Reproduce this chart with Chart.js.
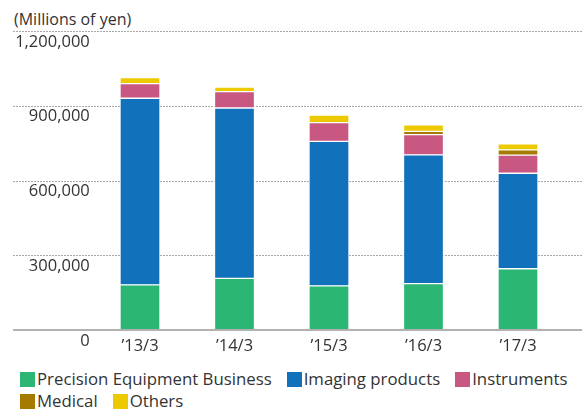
<!DOCTYPE html>
<html>
<head>
<meta charset="utf-8">
<script src="https://cdn.jsdelivr.net/npm/chart.js@4"></script>
<style>
  body { margin: 0; background: #fff; font-family: "Open Sans", sans-serif; color: #333; }
  #wrap { position: relative; width: 582px; height: 411px; }
  #chartBox { position: absolute; left: 0; top: 0; width: 582px; height: 362px; }
  #unit { position: absolute; left: 14px; top: 9px; font-size: 16px; line-height: 20px; }
  #legend { position: absolute; left: 20px; top: 368px; font-size: 16.8px; line-height: 22px; white-space: nowrap; }
  .row { display: flex; align-items: center; height: 22px; }
  .item { display: flex; align-items: center; margin-right: 15px; }
  .swatch { width: 15px; height: 15px; margin-right: 2px; }
</style>
</head>
<body>
<div id="wrap">
  <div id="unit">(Millions of yen)</div>
  <div id="chartBox"><canvas id="salesChart"></canvas></div>
  <div id="legend"></div>
</div>
<script>
// Net sales by segment, millions of yen
const years = ["\u201913/3", "\u201914/3", "\u201915/3", "\u201916/3", "\u201917/3"];
const precision = [181000, 207000, 177000, 186000, 246000];
const imaging = [749000, 684000, 580000, 517000, 383000];
const instruments = [59000, 66000, 75000, 81000, 73000];
const medical = [0, 0, 0, 13000, 21000];
const others = [24000, 18000, 31000, 26000, 24000];
const yTicks = [0, 300000, 600000, 900000, 1200000];

const seriesNames = ["Precision Equipment Business", "Imaging products", "Instruments", "Medical", "Others"];
const seriesColors = ["#2bb673", "#1172bb", "#c85882", "#a67a00", "#ecc900"];
const seriesData = [precision, imaging, instruments, medical, others];

// dotted guides run across the whole width, so draw them by hand off the y scale
const guideLines = {
  id: "guideLines",
  beforeDatasetsDraw(chart) {
    const { ctx, scales: { y } } = chart;
    ctx.save();
    ctx.strokeStyle = "#a8a8a8";
    ctx.lineWidth = 1;
    ctx.setLineDash([2, 1]);
    yTicks.forEach((v) => {
      if (v === 0) return;
      const py = Math.round(y.getPixelForValue(v)) + 0.5;
      ctx.beginPath();
      ctx.moveTo(13, py);
      ctx.lineTo(chart.width, py);
      ctx.stroke();
    });
    ctx.restore();
  },
  afterDatasetsDraw(chart) {
    const { ctx, scales: { y } } = chart;
    const py = Math.round(y.getPixelForValue(0));
    ctx.save();
    ctx.strokeStyle = "#b2b2b2";
    ctx.lineWidth = 2;
    ctx.beginPath();
    ctx.moveTo(13, py);
    ctx.lineTo(chart.width, py);
    ctx.stroke();
    ctx.restore();
  },
};

const ctx = document.getElementById("salesChart").getContext("2d");
new Chart(ctx, {
  type: "bar",
  data: {
    labels: years,
    datasets: seriesNames.map((name, i) => ({
      label: name,
      data: seriesData[i],
      backgroundColor: seriesColors[i],
      borderColor: "rgba(255,255,255,0.85)",
      borderWidth: 1,
      borderSkipped: false,
      barThickness: 40,
    })),
  },
  options: {
    responsive: true,
    maintainAspectRatio: false,
    animation: false,
    layout: { padding: { left: 12.75, right: 16.75, top: 31, bottom: 0 } },
    plugins: { legend: { display: false }, tooltip: { enabled: false } },
    scales: {
      x: {
        stacked: true,
        grid: { display: false, drawTicks: false },
        border: { display: false },
        ticks: { color: "#333", font: { family: "Open Sans", size: 16.5 }, padding: 6, maxRotation: 0 },
        afterFit: (s) => { s.height = 32; },
      },
      y: {
        stacked: true,
        min: 0,
        max: 1200000,
        afterBuildTicks: (s) => { s.ticks = yTicks.map((v) => ({ value: v })); },
        grid: { display: false, drawTicks: false },
        border: { display: false },
        ticks: {
          color: "#333",
          font: { family: "Open Sans", size: 16.5 },
          padding: 3,
          labelOffset: 11,
          callback: (v) => v.toLocaleString("en-US"),
        },
        afterFit: (s) => { s.width = 80; },
      },
    },
  },
  plugins: [guideLines],
});

// legend in two rows like the original
const legend = document.getElementById("legend");
[[0, 1, 2], [3, 4]].forEach((idx) => {
  const row = document.createElement("div");
  row.className = "row";
  idx.forEach((i) => {
    const item = document.createElement("div");
    item.className = "item";
    item.innerHTML = '<span class="swatch" style="background:' + seriesColors[i] + '"></span><span>' + seriesNames[i] + "</span>";
    row.appendChild(item);
  });
  legend.appendChild(row);
});
</script>
</body>
</html>
